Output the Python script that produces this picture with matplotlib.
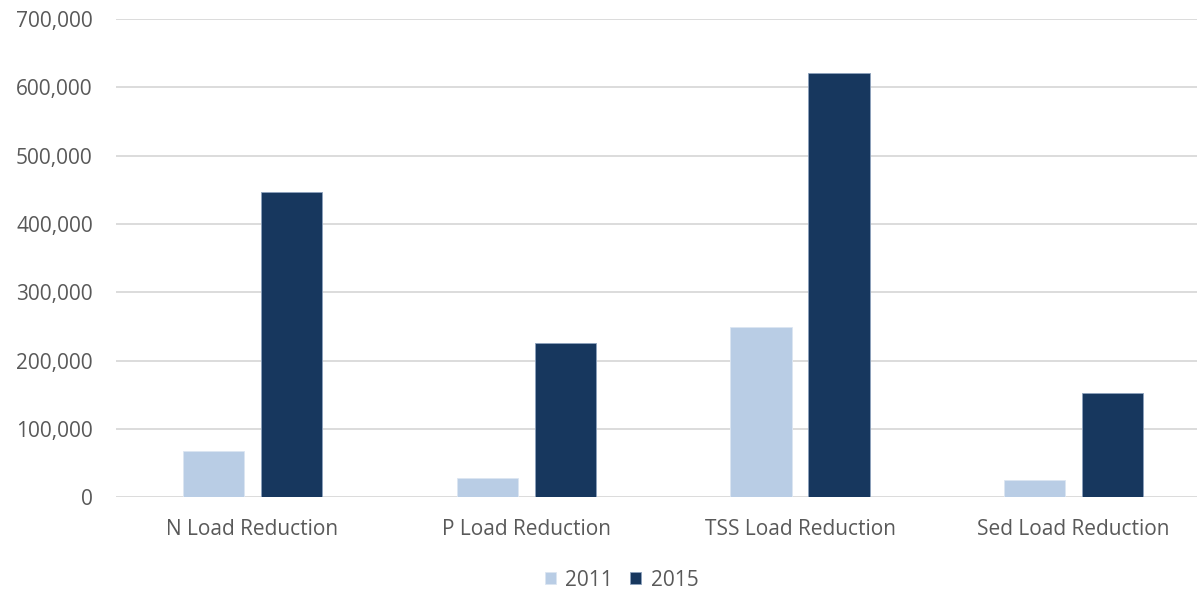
import numpy as np
import matplotlib
matplotlib.use('Agg')
import matplotlib.pyplot as plt
from matplotlib.ticker import FuncFormatter

categories = ['N Load Reduction', 'P Load Reduction', 'TSS Load Reduction', 'Sed Load Reduction']
vals_2011 = [68200, 27800, 248800, 25300]
vals_2015 = [446400, 225400, 620500, 152200]
years = ['2011', '2015']

c_light = '#B9CDE5'
c_dark = '#17375E'
txt = '#595959'

plt.rcParams['font.family'] = ['Open Sans', 'DejaVu Sans']

W, H = 1197, 592
fig = plt.figure(figsize=(W / 100, H / 100), dpi=100)
ax = fig.add_axes([115.7 / W, (H - 497.3) / H, (1210.6 - 115.7) / W, (497.3 - 19) / H])

x = np.arange(len(categories))
bw = 0.2246
off = 0.1425
ax.bar(x - off, vals_2011, bw, color=c_light, edgecolor='#DCE6F2', linewidth=0.6, label=years[0], zorder=3)
ax.bar(x + off, vals_2015, bw, color=c_dark, edgecolor='#8DA2BD', linewidth=0.6, label=years[1], zorder=3)

ax.set_xlim(-0.5, len(categories) - 0.5)
ax.set_ylim(0, 700000)
ax.set_yticks(np.arange(0, 700001, 100000))
ax.yaxis.set_major_formatter(FuncFormatter(lambda v, p: f'{int(v):,}'))
ax.set_xticks(x)
ax.set_xticklabels(categories)
ax.grid(axis='y', color='#D9D9D9', linewidth=1.3, zorder=0)
ax.set_axisbelow(True)
for s in ax.spines.values():
    s.set_visible(False)
ax.tick_params(axis='both', length=0, labelsize=15, colors=txt)
ax.tick_params(axis='y', pad=16.5)
ax.tick_params(axis='x', pad=15.5)

fig.legend(loc='center', bbox_to_anchor=(621.5 / W, (H - 580) / H), ncol=2, frameon=False,
           fontsize=15, labelcolor=txt, handlelength=0.55, handleheight=0.55,
           handletextpad=0.45, columnspacing=0.8)

fig.savefig('out.png', dpi=100)
